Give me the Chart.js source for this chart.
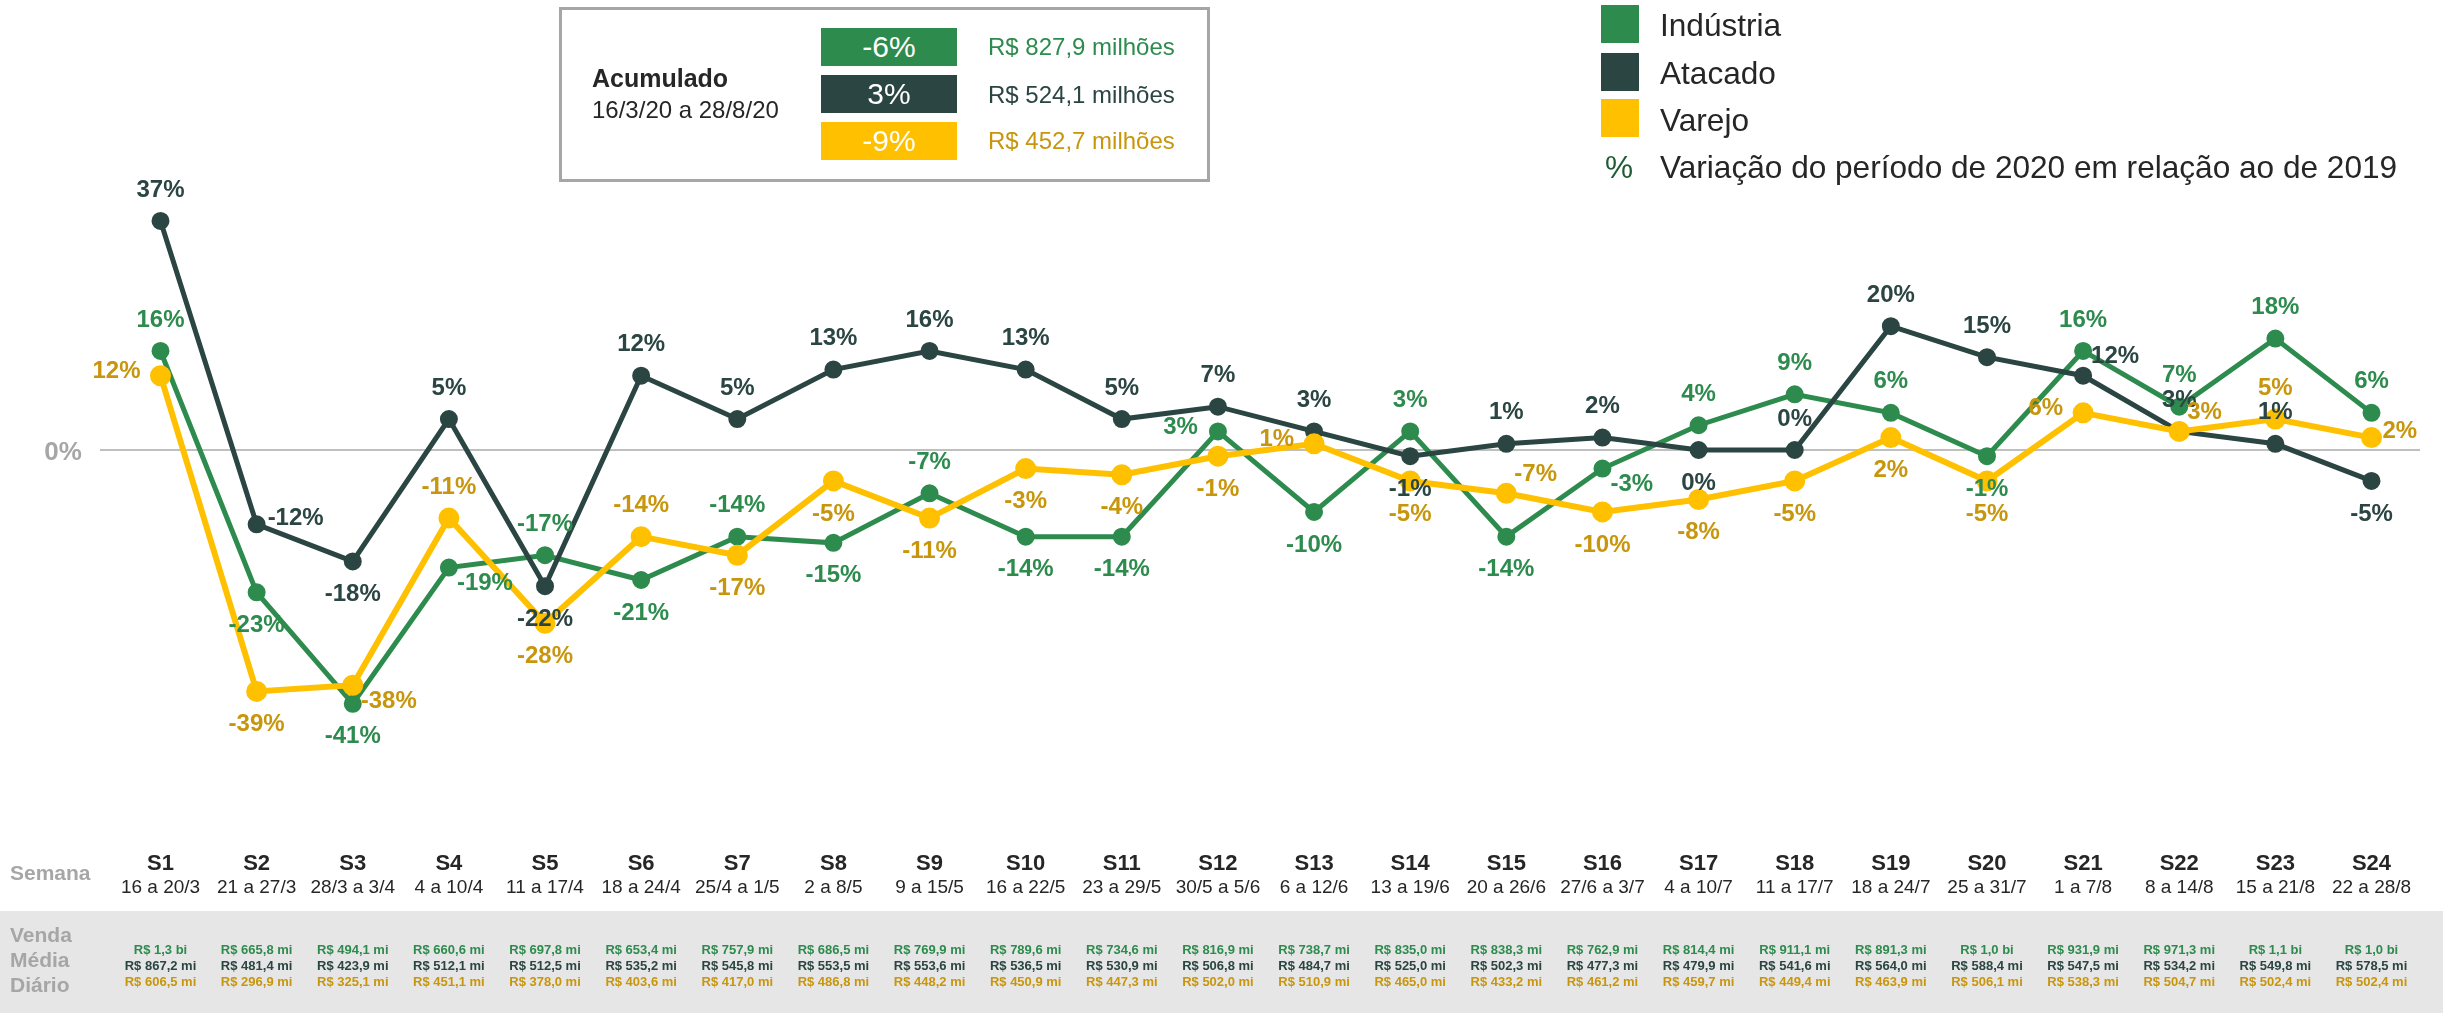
<!DOCTYPE html>
<html lang="pt-BR">
<head>
<meta charset="UTF-8"/>
<title>Variação semanal das vendas – Indústria, Atacado e Varejo</title>
<script src="https://cdn.jsdelivr.net/npm/chart.js"></script>
<style>
  body { margin:0; background:#fff; font-family:'Liberation Sans',Arial,sans-serif; color:#262626; overflow:hidden; }
  #wrap { position:relative; width:2443px; height:1013px; }
  #chart { position:absolute; left:0; top:0; }
  .abs { position:absolute; white-space:nowrap; }
  .acum { position:absolute; left:559px; top:7px; width:651px; height:175px; border:3px solid #a6a6a6; box-sizing:border-box; }
  .pill { position:absolute; left:821px; width:136px; height:38px; line-height:38px; text-align:center; color:#fff; font-size:30px; }
  .val { position:absolute; left:988px; height:30px; line-height:30px; font-size:24px; }
  .sq { position:absolute; left:1601px; width:38px; height:38px; }
  .leg { position:absolute; left:1660px; height:40px; line-height:40px; font-size:31.6px; color:#262626; white-space:nowrap; }
</style>
</head>
<body>
<div id="wrap">
  <canvas id="chart" width="2443" height="1013"></canvas>

  <!-- acumulado -->
  <div class="acum"></div>
  <div class="abs" style="left:592px;top:64px;font-size:25px;font-weight:bold;">Acumulado</div>
  <div class="abs" style="left:592px;top:96px;font-size:24px;">16/3/20 a 28/8/20</div>
  <div class="pill" style="top:28px;background:#2e8b4e;">-6%</div>
  <div class="pill" style="top:75px;background:#2a4542;">3%</div>
  <div class="pill" style="top:122px;background:#ffc000;">-9%</div>
  <div class="val" style="top:32px;color:#2e8b4e;">R$ 827,9 milhões</div>
  <div class="val" style="top:80px;color:#2a4542;">R$ 524,1 milhões</div>
  <div class="val" style="top:126px;color:#c8960c;">R$ 452,7 milhões</div>

  <!-- legenda -->
  <div class="sq" style="top:5px;background:#2e8b4e;"></div>
  <div class="sq" style="top:53px;background:#2a4542;"></div>
  <div class="sq" style="top:99px;background:#ffc000;"></div>
  <div class="leg" style="top:5px;">Indústria</div>
  <div class="leg" style="top:53px;">Atacado</div>
  <div class="leg" style="top:100px;">Varejo</div>
  <div class="leg" style="left:1605px;top:147px;color:#1f5c36;">%</div>
  <div class="leg" style="top:147px;">Variação do período de 2020 em relação ao de 2019</div>
</div>

<script>
  // dados
  const semanas = ['S1','S2','S3','S4','S5','S6','S7','S8','S9','S10','S11','S12','S13','S14','S15','S16','S17','S18','S19','S20','S21','S22','S23','S24'];
  const periodos = ['16 a 20/3','21 a 27/3','28/3 a 3/4','4 a 10/4','11 a 17/4','18 a 24/4','25/4 a 1/5','2 a 8/5','9 a 15/5','16 a 22/5','23 a 29/5','30/5 a 5/6','6 a 12/6','13 a 19/6','20 a 26/6','27/6 a 3/7','4 a 10/7','11 a 17/7','18 a 24/7','25 a 31/7','1 a 7/8','8 a 14/8','15 a 21/8','22 a 28/8'];
  const industria = [16,-23,-41,-19,-17,-21,-14,-15,-7,-14,-14,3,-10,3,-14,-3,4,9,6,-1,16,7,18,6];
  const atacado   = [37,-12,-18,5,-22,12,5,13,16,13,5,7,3,-1,1,2,0,0,20,15,12,3,1,-5];
  const varejo    = [12,-39,-38,-11,-28,-14,-17,-5,-11,-3,-4,-1,1,-5,-7,-10,-8,-5,2,-5,6,3,5,2];
  const vendaIndustria = ['R$ 1,3 bi','R$ 665,8 mi','R$ 494,1 mi','R$ 660,6 mi','R$ 697,8 mi','R$ 653,4 mi','R$ 757,9 mi','R$ 686,5 mi','R$ 769,9 mi','R$ 789,6 mi','R$ 734,6 mi','R$ 816,9 mi','R$ 738,7 mi','R$ 835,0 mi','R$ 838,3 mi','R$ 762,9 mi','R$ 814,4 mi','R$ 911,1 mi','R$ 891,3 mi','R$ 1,0 bi','R$ 931,9 mi','R$ 971,3 mi','R$ 1,1 bi','R$ 1,0 bi'];
  const vendaAtacado = ['R$ 867,2 mi','R$ 481,4 mi','R$ 423,9 mi','R$ 512,1 mi','R$ 512,5 mi','R$ 535,2 mi','R$ 545,8 mi','R$ 553,5 mi','R$ 553,6 mi','R$ 536,5 mi','R$ 530,9 mi','R$ 506,8 mi','R$ 484,7 mi','R$ 525,0 mi','R$ 502,3 mi','R$ 477,3 mi','R$ 479,9 mi','R$ 541,6 mi','R$ 564,0 mi','R$ 588,4 mi','R$ 547,5 mi','R$ 534,2 mi','R$ 549,8 mi','R$ 578,5 mi'];
  const vendaVarejo = ['R$ 606,5 mi','R$ 296,9 mi','R$ 325,1 mi','R$ 451,1 mi','R$ 378,0 mi','R$ 403,6 mi','R$ 417,0 mi','R$ 486,8 mi','R$ 448,2 mi','R$ 450,9 mi','R$ 447,3 mi','R$ 502,0 mi','R$ 510,9 mi','R$ 465,0 mi','R$ 433,2 mi','R$ 461,2 mi','R$ 459,7 mi','R$ 449,4 mi','R$ 463,9 mi','R$ 506,1 mi','R$ 538,3 mi','R$ 504,7 mi','R$ 502,4 mi','R$ 502,4 mi'];

  // onde fica cada rótulo em relação ao ponto (t, b, l, r, tr, br)
  const posIndustria = ['t','b','b','br','t','b','t','b','t','b','b','l','b','t','b','br','t','t','t','b','t','t','t','t'];
  const posAtacado   = ['t','r','b','t','b','t','t','t','t','t','t','t','t','b','t','t','b','t','t','t','tr','t','t','b'];
  const posVarejo    = ['l','b','br','t','b','t','b','b','b','b','b','b','l','b','tr','b','b','b','b','b','l','tr','t','r'];

  const VERDE='#2e8b4e', ESCURO='#2a4542', AMARELO='#ffc000', OURO='#c8960c', CINZA='#a6a6a6', TEXTO='#262626';
  const FONTE="'Liberation Sans', Arial, sans-serif";

  const offsets = {
    t:  {dx:0,   dy:-31, align:'center'},
    b:  {dx:0,   dy:33,  align:'center'},
    l:  {dx:-20, dy:-4,  align:'right'},
    r:  {dx:11,  dy:-6,  align:'left'},
    tr: {dx:8,   dy:-19, align:'left'},
    br: {dx:8,   dy:16,  align:'left'}
  };

  // linha do zero, rótulos e tabela de baixo
  const extras = {
    id:'extras',
    beforeDatasetsDraw(chart){
      const {ctx, scales:{y}} = chart;
      const y0 = y.getPixelForValue(0);
      ctx.save();
      ctx.strokeStyle='#bfbfbf'; ctx.lineWidth=2;
      ctx.beginPath(); ctx.moveTo(100,y0); ctx.lineTo(2420,y0); ctx.stroke();
      ctx.fillStyle=CINZA; ctx.font='bold 26px '+FONTE;
      ctx.textAlign='center'; ctx.textBaseline='middle';
      ctx.fillText('0%', 63, y0+3);
      ctx.restore();
    },
    afterDatasetsDraw(chart){
      const {ctx} = chart;
      const cores = [VERDE, ESCURO, OURO];
      const pos = [posIndustria, posAtacado, posVarejo];
      ctx.save();
      ctx.font='bold 24px '+FONTE;
      ctx.textBaseline='middle';
      chart.data.datasets.forEach((ds,di)=>{
        const meta = chart.getDatasetMeta(di);
        meta.data.forEach((pt,i)=>{
          const o = offsets[pos[di][i]];
          ctx.fillStyle = cores[di];
          ctx.textAlign = o.align;
          ctx.fillText(ds.data[i]+'%', pt.x+o.dx, pt.y+o.dy);
        });
      });
      ctx.restore();
    },
    afterDraw(chart){
      const {ctx, scales:{x}} = chart;
      ctx.save();
      ctx.fillStyle='#e6e6e6';
      ctx.fillRect(0,911,2443,102);
      ctx.textBaseline='middle';
      ctx.textAlign='left';
      ctx.fillStyle=CINZA; ctx.font='bold 21px '+FONTE;
      ctx.fillText('Semana',10,874);
      ctx.fillText('Venda',10,936);
      ctx.fillText('Média',10,961);
      ctx.fillText('Diário',10,986);
      ctx.textAlign='center';
      semanas.forEach((s,i)=>{
        const px = x.getPixelForValue(i);
        ctx.fillStyle=TEXTO;
        ctx.font='bold 22px '+FONTE; ctx.fillText(s,px,864);
        ctx.font='19px '+FONTE; ctx.fillText(periodos[i],px,888);
        ctx.font='bold 13px '+FONTE;
        ctx.fillStyle=VERDE;  ctx.fillText(vendaIndustria[i],px,950);
        ctx.fillStyle=ESCURO; ctx.fillText(vendaAtacado[i],px,966);
        ctx.fillStyle=OURO;   ctx.fillText(vendaVarejo[i],px,982);
      });
      ctx.restore();
    }
  };

  const ctx = document.getElementById('chart').getContext('2d');
  new Chart(ctx,{
    type:'line',
    data:{
      labels:semanas,
      datasets:[
        {label:'Indústria', data:industria, borderColor:VERDE, backgroundColor:VERDE, borderWidth:5, pointRadius:6.5, order:3, clip:false},
        {label:'Atacado', data:atacado, borderColor:ESCURO, backgroundColor:ESCURO, borderWidth:5, pointRadius:6.5, order:2, clip:false},
        {label:'Varejo', data:varejo, borderColor:AMARELO, backgroundColor:AMARELO, borderWidth:6, pointRadius:7.5, order:1, clip:false}
      ]
    },
    options:{
      responsive:false, animation:false, devicePixelRatio:1,
      layout:{padding:{left:160.5, right:71.5, top:202.4, bottom:284.45}},
      elements:{line:{tension:0}, point:{borderWidth:0, hoverRadius:7}},
      plugins:{legend:{display:false}, tooltip:{enabled:false}},
      scales:{
        x:{display:false, offset:false},
        y:{display:false, min:-45, max:40}
      }
    },
    plugins:[extras]
  });
</script>
</body>
</html>
